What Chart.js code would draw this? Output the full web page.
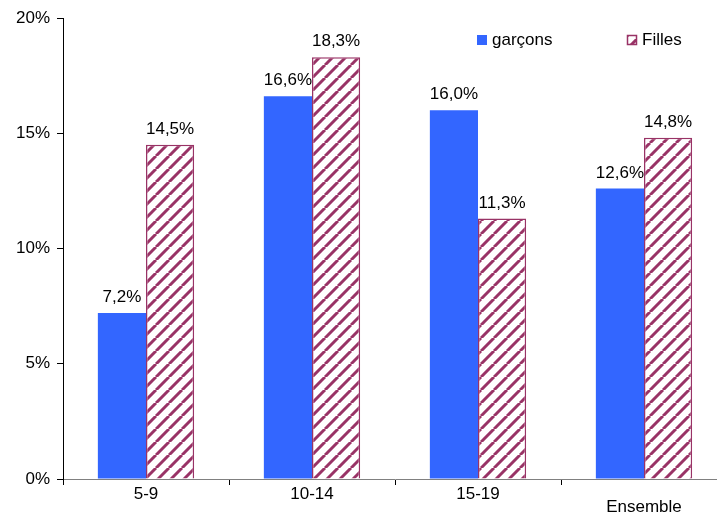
<!DOCTYPE html>
<html>
<head>
<meta charset="utf-8">
<script src="https://cdn.jsdelivr.net/npm/chart.js@4/dist/chart.umd.min.js"></script>
<style>
  html, body { margin: 0; padding: 0; background: #fff; overflow: hidden; }
  #wrap { width: 760px; height: 518px; }
</style>
</head>
<body>
<div id="wrap"><canvas id="chart" width="760" height="518"></canvas></div>
<script>
// Age groups and shares per sex (%)
const categories = ['5-9', '10-14', '15-19', 'Ensemble'];
const garcons = [7.2, 16.6, 16.0, 12.6];
const filles = [14.5, 18.3, 11.3, 14.8];
const yTicks = [0, 5, 10, 15, 20];

const BLUE = '#3366FF';
const MAROON = '#993366';
const FONT = '"Liberation Sans", Arial, sans-serif';
const FONT_SIZE = 17;

// White tile with "/" maroon stripes for the Filles bars
const makeHatch = () => {
    const size = 13;
    const c = document.createElement('canvas');
    c.width = size; c.height = size;
    const g = c.getContext('2d');
    g.fillStyle = '#fff';
    g.fillRect(0, 0, size, size);
    g.strokeStyle = MAROON;
    g.lineWidth = 3;
    g.beginPath();
    for (let k = -1; k <= 1; k++) {
        g.moveTo(k * size, size);
        g.lineTo(k * size + size, 0);
    }
    g.stroke();
    return g.createPattern(c, 'repeat');
};

const fmt = v => v.toFixed(1).replace('.', ',') + '%';

const ctx = document.getElementById('chart').getContext('2d');
const hatch = makeHatch();

// Value labels above each bar
const valueLabels = {
    id: 'valueLabels',
    afterDatasetsDraw(chart) {
        const c = chart.ctx;
        c.save();
        c.font = FONT_SIZE + 'px ' + FONT;
        c.fillStyle = '#000';
        c.textAlign = 'center';
        c.textBaseline = 'alphabetic';
        chart.data.datasets.forEach((ds, i) => {
            chart.getDatasetMeta(i).data.forEach((bar, j) => {
                c.fillText(fmt(ds.data[j]), bar.x, bar.y - 11);
            });
        });
        c.restore();
    }
};

// Legend drawn inside the plot, top right
const cornerLegend = {
    id: 'cornerLegend',
    afterDraw(chart) {
        const c = chart.ctx;
        c.save();
        c.font = FONT_SIZE + 'px ' + FONT;
        c.textBaseline = 'middle';
        const items = [
            { label: 'garçons', x: 477, fill: BLUE, border: null },
            { label: 'Filles', x: 627, fill: hatch, border: MAROON }
        ];
        const y = 40;
        items.forEach(it => {
            c.fillStyle = it.fill;
            c.fillRect(it.x, y - 5, 10, 10);
            if (it.border) {
                c.strokeStyle = it.border;
                c.lineWidth = 1.5;
                c.strokeRect(it.x + 0.5, y - 4.5, 9, 9);
            }
            c.fillStyle = '#000';
            c.fillText(it.label, it.x + 15, y);
        });
        c.restore();
    }
};

new Chart(ctx, {
    type: 'bar',
    data: {
        labels: categories,
        datasets: [
            {
                label: 'garçons',
                data: garcons,
                backgroundColor: BLUE,
                borderWidth: 0,
                categoryPercentage: 0.58,
                barPercentage: 1
            },
            {
                label: 'Filles',
                data: filles,
                backgroundColor: hatch,
                borderColor: MAROON,
                borderWidth: 1.5,
                borderSkipped: 'bottom',
                categoryPercentage: 0.58,
                barPercentage: 1
            }
        ]
    },
    options: {
        responsive: false,
        animation: false,
        layout: { padding: { top: 18, right: 33, left: 0, bottom: 0 } },
        plugins: {
            legend: { display: false },
            tooltip: { enabled: false }
        },
        scales: {
            x: {
                grid: {
                    display: true,
                    drawOnChartArea: false,
                    drawTicks: true,
                    tickLength: 6,
                    color: '#000'
                },
                border: { color: '#808080', width: 1 },
                ticks: {
                    color: '#000',
                    font: { family: FONT, size: FONT_SIZE, lineHeight: 0.75 },
                    padding: 3,
                    maxRotation: 0,
                    callback: (v, i) => i === 3 ? ['', categories[i]] : categories[i]
                },
                afterFit: s => { s.height = 39; }
            },
            y: {
                min: 0,
                max: 20,
                afterBuildTicks: s => { s.ticks = yTicks.map(v => ({ value: v })); },
                grid: {
                    display: true,
                    drawOnChartArea: false,
                    drawTicks: true,
                    tickLength: 6,
                    color: '#000'
                },
                border: { color: '#000', width: 1 },
                ticks: {
                    color: '#000',
                    font: { family: FONT, size: FONT_SIZE },
                    padding: 7,
                    callback: v => v + '%'
                },
                afterFit: s => { s.width = 63; }
            }
        }
    },
    plugins: [valueLabels, cornerLegend]
});
</script>
</body>
</html>
